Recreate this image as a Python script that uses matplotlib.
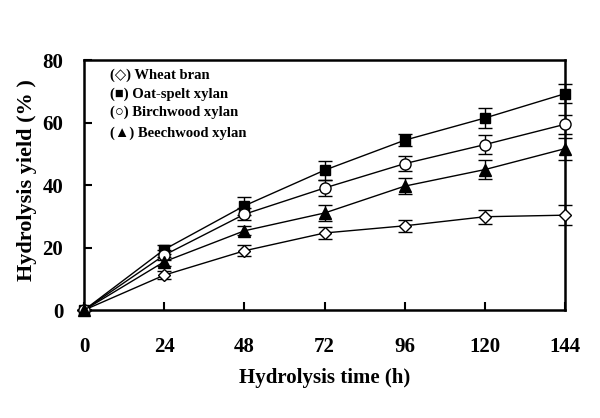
import matplotlib.pyplot as plt

plt.rcParams['font.family'] = ['Liberation Serif', 'DejaVu Serif']
plt.rcParams['font.weight'] = 'bold'

time_h = [0, 24, 48, 72, 96, 120, 144]

wheat = [0, 11.2, 19.0, 24.7, 27.0, 29.9, 30.4]
wheat_err = [0, 1.2, 1.8, 1.8, 2.0, 2.2, 3.3]
oat = [0, 19.4, 33.4, 44.8, 54.4, 61.5, 69.3]
oat_err = [0, 1.5, 2.8, 3.0, 2.0, 3.3, 3.0]
birch = [0, 17.6, 30.7, 39.1, 46.9, 53.0, 59.5]
birch_err = [0, 1.5, 2.0, 2.5, 2.5, 3.0, 3.0]
beech = [0, 15.5, 25.4, 31.1, 39.7, 45.0, 51.7]
beech_err = [0, 1.5, 1.5, 2.5, 2.5, 3.0, 3.5]

labels = ['(\u25c7) Wheat bran', '(\u25a0) Oat-spelt xylan',
          '(\u25cb) Birchwood xylan', '(\u25b2) Beechwood xylan']

fig = plt.figure(figsize=(6, 4.18), dpi=100)
ax = fig.add_axes([0.14, 0.258, 0.802, 0.598])

series = [
    (wheat, wheat_err, 'D', 'white', 6.5),
    (oat, oat_err, 's', 'black', 7.5),
    (birch, birch_err, 'o', 'white', 8),
    (beech, beech_err, '^', 'black', 8),
]
for vals, err, mk, fc, ms in series:
    ax.errorbar(time_h, vals, yerr=err, color='black', lw=1, marker=mk,
                markersize=ms, markerfacecolor=fc, markeredgecolor='black',
                markeredgewidth=1, capsize=5, elinewidth=1, capthick=1,
                clip_on=False, zorder=3)

ax.set_xlim(0, 144)
ax.set_ylim(0, 80)
ax.set_xticks(time_h)
ax.set_yticks([0, 20, 40, 60, 80])
ax.tick_params(direction='in', length=6, width=1.5, labelsize=15)
ax.tick_params(axis='x', pad=19)
ax.tick_params(axis='y', pad=15)
for s in ax.spines.values():
    s.set_linewidth(1.8)

ax.set_xlabel('Hydrolysis time (h)', fontsize=15, fontweight='bold', labelpad=8)
ax.set_ylabel('Hydrolysis yield (% )', fontsize=16, fontweight='bold')
ax.yaxis.set_label_coords(-0.097, 0.52)

for i, lab in enumerate(labels):
    ax.text(0.055, 0.938 - i * 0.073 - (0.012 if i == 3 else 0), lab,
            transform=ax.transAxes, fontsize=10.5, fontweight='bold', va='center')

plt.savefig('out.png', dpi=100)
plt.close()
